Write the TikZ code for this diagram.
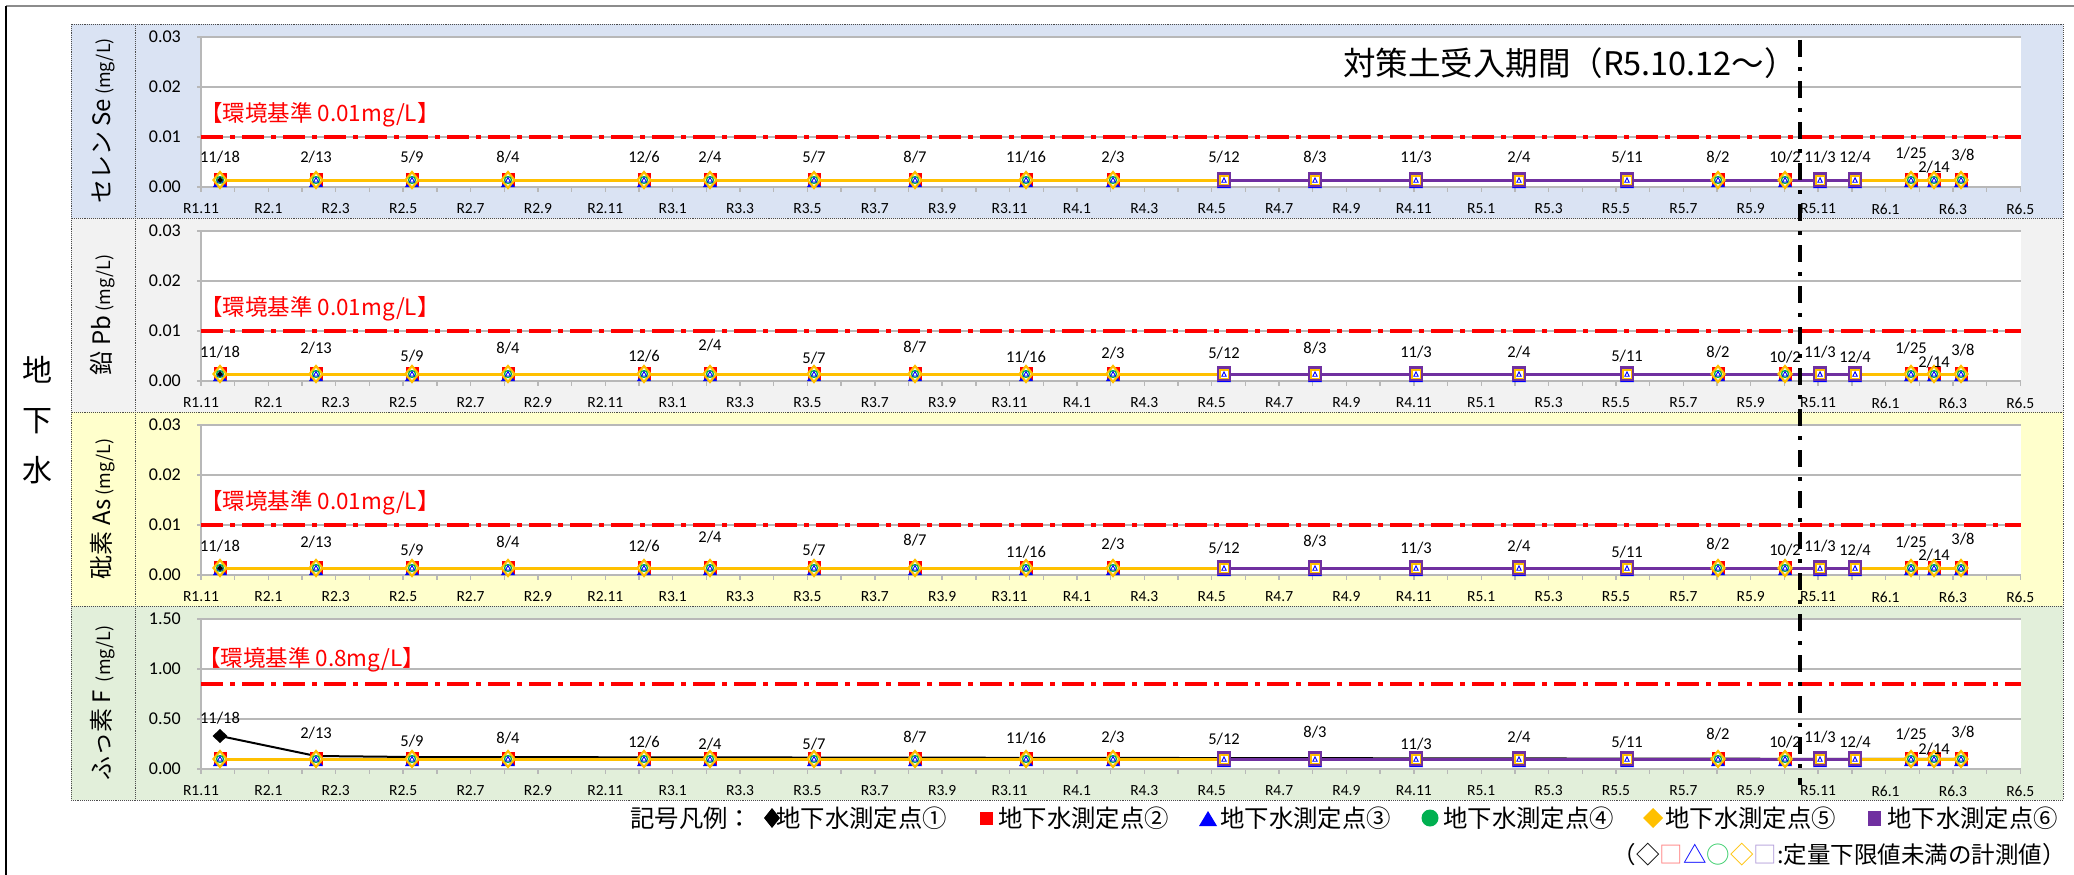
\documentclass[tikz,border=0pt]{standalone}
\usepackage{fontspec}
\setmainfont{Carlito}
\newfontfamily\jpfont{Noto Sans CJK JP}
\definecolor{bgse}{HTML}{DAE3F3}
\definecolor{bgpb}{HTML}{F2F2F2}
\definecolor{bgas}{HTML}{FFFFCC}
\definecolor{bgf}{HTML}{E2EFDA}
\definecolor{mkgold}{HTML}{FFC000}
\definecolor{mkpurple}{HTML}{7030A0}
\definecolor{mkgreen}{HTML}{00B050}
\definecolor{mkblue}{HTML}{0000FF}
\definecolor{mkred}{HTML}{FF0000}
\definecolor{lightred}{HTML}{FF7F7F}
\definecolor{lightgreen}{HTML}{33CC66}
\definecolor{lightpurple}{HTML}{B19CD9}

\begin{document}
\begin{tikzpicture}[x=1pt,y=-1pt,
  panelline/.style={densely dotted,black!70,line width=0.9pt},
  gridline/.style={black!28,line width=1.4pt},
  limitline/.style={mkred,line width=4pt,dash pattern=on 22pt off 7pt on 5pt off 7pt},
  periodline/.style={black,line width=3.5pt,dash pattern=on 17pt off 10pt on 4pt off 10pt},
  goldline/.style={mkgold,line width=3pt},
  purline/.style={mkpurple,line width=3pt},
  blkline/.style={black,line width=2pt},
  xlab/.style={inner sep=0,font=\fontsize{15.5}{15.5}\selectfont},
  ytick/.style={inner sep=0,anchor=east,font=\fontsize{18}{18}\selectfont},
  datelab/.style={inner sep=0,font=\fontsize{16.5}{16.5}\selectfont},
  axtitle/.style={inner sep=0,rotate=90},
  limitlab/.style={inner sep=0,anchor=west,mkred,font=\jpfont\fontsize{22.5}{22.5}\selectfont},
  legtext/.style={inner sep=0,anchor=west,font=\jpfont\fontsize{24.4}{24.4}\selectfont},
  stdmark/.pic={
    \fill[mkred] (-6.5,-7) rectangle (6.5,6);
    \fill[mkblue] (-7,7) -- (7,7) -- (0,-4) -- cycle;
    \draw[mkgold,line width=2.2pt,fill=white] (0,-8) -- (6.5,0) -- (0,8) -- (-6.5,0) -- cycle;
    \draw[mkgreen,line width=1.3pt] (0,0) circle (3.5pt);
    \draw[mkblue,line width=0.9pt] (-2.5,2) -- (2.5,2) -- (0,-2.5) -- cycle;
  },
  purmark/.pic={
    \fill[mkblue] (-7,8) -- (7,8) -- (0,-3) -- cycle;
    \draw[mkpurple,line width=2.4pt,fill=mkgold] (-6,-6.5) rectangle (6,6);
    \fill[white] (-3.5,-3.5) rectangle (3.5,3.5);
    \draw[mkblue,line width=0.9pt] (-2.2,2.2) -- (2.2,2.2) -- (0,-2.2) -- cycle;
  },
  blkmark/.pic={\fill[black] (0,-7) -- (7.5,0) -- (0,7) -- (-7.5,0) -- cycle;},
  blkdot/.pic={\fill[black] (0,-3) -- (3,0) -- (0,3) -- (-3,0) -- cycle;}]
\useasboundingbox (0,0) rectangle (2074,875);

% outer frame
\draw[black!45,line width=1.5pt] (6,6) -- (2074,6);
\draw[black,line width=1.2pt] (6,6) -- (6,875);

% panels
\foreach \n/\ptop/\bg in {1/24/bgse,2/218/bgpb,3/412/bgas,4/606/bgf} {
  \fill[\bg] (71,\ptop) rectangle (2063,\ptop+194);
  \fill[white] (201,\ptop+13) rectangle (2021,\ptop+163);
  \foreach \g in {13,63,113,163} {
    \draw[gridline] (201,\ptop+\g) -- (2021,\ptop+\g);
    \draw[gridline] (197,\ptop+\g) -- (201,\ptop+\g);
  }
  \draw[gridline] (201,\ptop+13) -- (201,\ptop+167);
  \foreach \m in {0,...,54}
    \draw[gridline] (201+33.69*\m,\ptop+163) -- ++(0,4.5);
  \foreach \lab [count=\k from 0] in {R1.11,R2.1,R2.3,R2.5,R2.7,R2.9,R2.11,R3.1,R3.3,R3.5,R3.7,R3.9,R3.11,R4.1,R4.3,R4.5,R4.7,R4.9,R4.11,R5.1,R5.3,R5.5,R5.7,R5.9,R5.11,R6.1,R6.3,R6.5}
    \node[xlab] (xl\n-\k) at (201+67.38*\k,\ptop+185) {\lab};
  \draw[panelline] (71,\ptop) rectangle (2063,\ptop+194);
  \draw[panelline] (135,\ptop) -- (135,\ptop+194);
}

% y ticks
\foreach \n/\ptop in {1/24,2/218,3/412}
  \foreach \v [count=\j from 0] in {0.03,0.02,0.01,0.00}
    \node[ytick] (yt\n-\j) at (181,\ptop+13+50*\j) {\v};
\foreach \v [count=\j from 0] in {1.50,1.00,0.50,0.00}
  \node[ytick] (yt4-\j) at (181,619+50*\j) {\v};

% axis titles
\node[axtitle] (ttlse) at (103,121) {\jpfont\fontsize{24}{24}\selectfont セレン Se\fontsize{18}{18}\selectfont\ (mg/L)};
\node[axtitle] (ttlpb) at (103,315) {\jpfont\fontsize{24}{24}\selectfont 鉛 Pb\fontsize{18}{18}\selectfont\ (mg/L)};
\node[axtitle] (ttlas) at (103,509) {\jpfont\fontsize{24}{24}\selectfont 砒素 As\fontsize{18}{18}\selectfont\ (mg/L)};
\node[axtitle] (ttlf) at (103,703) {\jpfont\fontsize{24}{24}\selectfont ふっ素 F\fontsize{18}{18}\selectfont\ \ (mg/L)};
\node[align=center,inner sep=0,font=\jpfont\fontsize{30}{50}\selectfont] (gw) at (37,420) {地\\下\\水};

% limits
\foreach \n/\ptop in {1/24,2/218,3/412} {
  \draw[limitline] (201,\ptop+113) -- (2021,\ptop+113);
  \node[limitlab] (lim\n) at (200,\ptop+91) {【環境基準 0.01mg/L】};
}
\draw[limitline] (201,684) -- (2021,684);
\node[limitlab] (lim4) at (198,660) {【環境基準 0.8mg/L】};

% samples
\foreach \n/\ptop/\dy/\offs in {
  1/24/156/{133,133,133,133,133,133,133,133,133,133,133,133,133,133,133,133,133,133,133,129,143,131},
  2/218/156/{134,130,138,130,138,127,140,129,139,135,135,130,134,134,138,134,139,134,139,130,144,132},
  3/412/156/{134,130,138,130,134,125,138,128,140,132,136,129,136,134,140,132,138,134,138,130,143,127},
  4/606/153/{112,127,135,132,136,138,138,131,132,131,133,126,138,131,136,128,136,131,136,128,143,126}} {
  \foreach \x [count=\i] in {220,316,412,508,644,710,814,915,1026,1113,1224,1315,1416,1519,1627,1718,1785,1820,1855,1911,1934,1961}
    \coordinate (s\n-\i) at (\x,\ptop+\dy);
  \ifnum\n=4
    \coordinate (k4) at (220,\ptop+130);
    \draw[blkline] (k4) -- (316,\ptop+150) -- (412,\ptop+151) -- (s4-22);
  \fi
  \draw[goldline] (s\n-1) \foreach \i in {2,...,22} {-- (s\n-\i)};
  \draw[purline] (s\n-11) \foreach \i in {12,...,19} {-- (s\n-\i)};
  \foreach \x/\dlab/\kind [count=\i] in {220/{11/18}/0,316/{2/13}/0,412/{5/9}/0,508/{8/4}/0,644/{12/6}/0,710/{2/4}/0,814/{5/7}/0,915/{8/7}/0,1026/{11/16}/0,1113/{2/3}/0,1224/{5/12}/1,1315/{8/3}/1,1416/{11/3}/1,1519/{2/4}/1,1627/{5/11}/1,1718/{8/2}/0,1785/{10/2}/0,1820/{11/3}/1,1855/{12/4}/1,1911/{1/25}/0,1934/{2/14}/0,1963/{3/8}/0} {
    \ifnum\kind=1 \pic at (s\n-\i) {purmark}; \else \pic at (s\n-\i) {stdmark}; \fi
    \pgfmathsetmacro\ly{{\offs}[\i-1]}
    \node[datelab] (d\n-\i) at (\x,\ptop+\ly) {\dlab};
  }
  \ifnum\n<4 \pic at (s\n-1) {blkdot}; \fi
}
\pic at (k4) {blkmark};

% period
\node[inner sep=0,font=\jpfont\fontsize{32.5}{32.5}\selectfont] (period) at (1570,63) {対策土受入期間（R5.10.12～）};
\coordinate (pt) at (1800,40);
\coordinate (pb) at (1800,785);
\draw[periodline] (pt) -- (pb);

% legend
\node[legtext] (leg0) at (630,818) {記号凡例：};
\fill[black] (772,808) -- (780,818) -- (772,828) -- (764,818) -- cycle;
\node[legtext] (leg1) at (776,818) {地下水測定点①};
\fill[mkred] (980,812) rectangle (993,825);
\node[legtext] (leg2) at (998,818) {地下水測定点②};
\fill[mkblue] (1199,826) -- (1217,826) -- (1208,811) -- cycle;
\node[legtext] (leg3) at (1220,818) {地下水測定点③};
\fill[mkgreen] (1430,818) circle (8.5pt);
\node[legtext] (leg4) at (1443,818) {地下水測定点④};
\fill[mkgold] (1653,808) -- (1663,818) -- (1653,828) -- (1643,818) -- cycle;
\node[legtext] (leg5) at (1665,818) {地下水測定点⑤};
\fill[mkpurple] (1868,811) rectangle (1881,826);
\node[legtext] (leg6) at (1887,818) {地下水測定点⑥};
\node[inner sep=0,anchor=east,font=\jpfont\fontsize{23.5}{23.5}\selectfont] (note) at (2066,855)
  {（◇\textcolor{lightred}{□}\textcolor{mkblue}{△}\textcolor{lightgreen}{○}\textcolor{mkgold}{◇}\textcolor{lightpurple}{□}:定量下限値未満の計測値）};
\end{tikzpicture}
\end{document}
